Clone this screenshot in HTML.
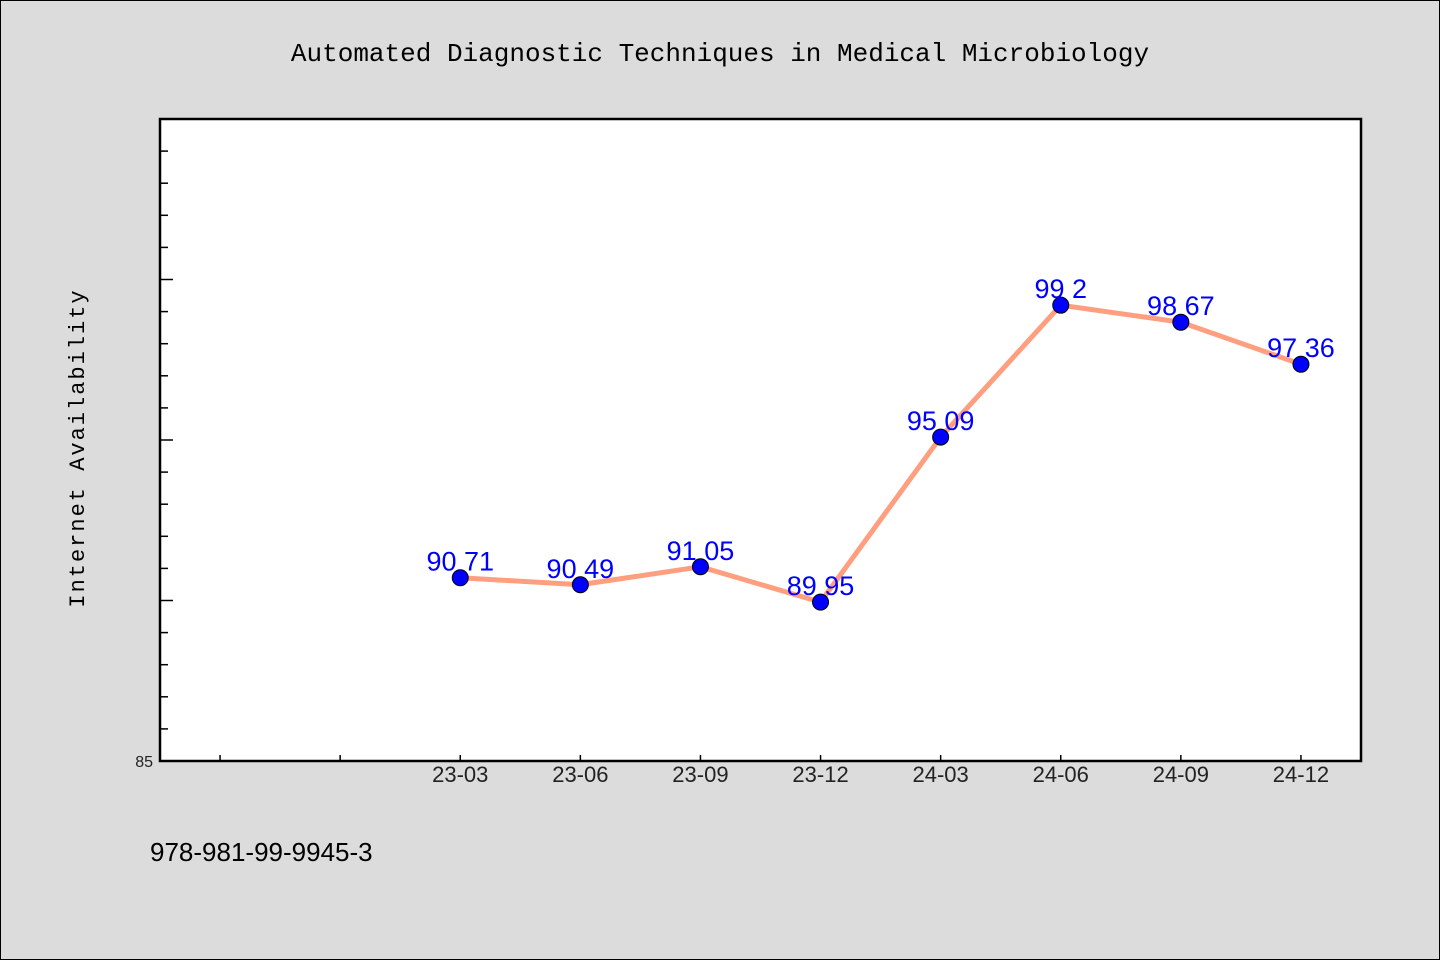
<!DOCTYPE html>
<html><head><meta charset="utf-8"><style>
html,body{margin:0;padding:0;background:#dcdcdc}
svg{display:block;font-family:"Liberation Mono","WenQuanYi Zen Hei",monospace}
</style></head><body>
<svg id="chart" width="1440" height="960" xmlns="http://www.w3.org/2000/svg">
<rect x="0.5" y="0.5" width="1439" height="959" fill="#dcdcdc" stroke="#000"/>
<text x="720" y="61" text-anchor="middle" font-size="26" fill="#000">Automated Diagnostic Techniques in Medical Microbiology</text>
<rect x="160" y="119" width="1201" height="642" fill="#fff" stroke="#000" stroke-width="2.5"/>
<text transform="translate(84,448) rotate(-90)" text-anchor="middle" font-size="22" letter-spacing="2" fill="#000">Internet Availability</text>
<text x="150" y="861" font-size="26" fill="#000" font-family="Liberation Sans, sans-serif">978-981-99-9945-3</text>
<g id="ticks"></g><g id="series"></g>
</svg>
<script>
const categories=["23-03","23-06","23-09","23-12","24-03","24-06","24-09","24-12"];
const values=[90.71,90.49,91.05,89.95,95.09,99.2,98.67,97.36];
const yTickLabels=["85"];
const NS="http://www.w3.org/2000/svg";
const x0=160,x1=1361,y0=761,y1=119,ymin=85,ymax=105,slots=10,offset=2;
const xs=i=>x0+(x1-x0)/slots*(i+offset+0.5);
const ys=v=>y0-(v-ymin)/(ymax-ymin)*(y0-y1);
function mk(t,a,p){const e=document.createElementNS(NS,t);for(const k in a)e.setAttribute(k,a[k]);p.appendChild(e);return e;}
const tg=document.getElementById('ticks'),sg=document.getElementById('series');
for(let v=ymin+1;v<ymax;v++){
 const l=mk('line',{x1:x0,x2:x0+(v%5===0?13:8),y1:ys(v),y2:ys(v),stroke:'#000','stroke-width':1.5},tg);
 
 
}
const yl=mk('text',{x:153,y:767,'text-anchor':'end','font-size':16,fill:'#222','font-family':'Liberation Sans, sans-serif'},tg);
yl.textContent=yTickLabels[0];


for(let i=-offset;i<categories.length;i++){
 const l=mk('line',{x1:xs(i),x2:xs(i),y1:y0,y2:y0-6,stroke:'#000','stroke-width':1.5},tg);
 
 
}
categories.forEach((c,i)=>{
 const t=mk('text',{x:xs(i),y:782,'text-anchor':'middle','font-size':22,fill:'#222','font-family':'Liberation Sans, sans-serif'},tg);
 t.textContent=c;
 
 
});
const pl=mk('polyline',{points:values.map((v,i)=>xs(i)+','+ys(v)).join(' '),fill:'none',stroke:'#ff9f7f','stroke-width':5},sg);


values.forEach((v,i)=>{
 const c=mk('circle',{cx:xs(i),cy:ys(v),r:8,fill:'#0000ff',stroke:'#000','stroke-width':1},sg);
 
 
 const t=mk('text',{x:xs(i),y:ys(v)-7,'text-anchor':'middle','font-size':27,fill:'#0000ff','font-family':'Liberation Sans, sans-serif'},sg);
 t.textContent=String(v).replace('.',' ');
 
 
});
</script>
</body></html>
